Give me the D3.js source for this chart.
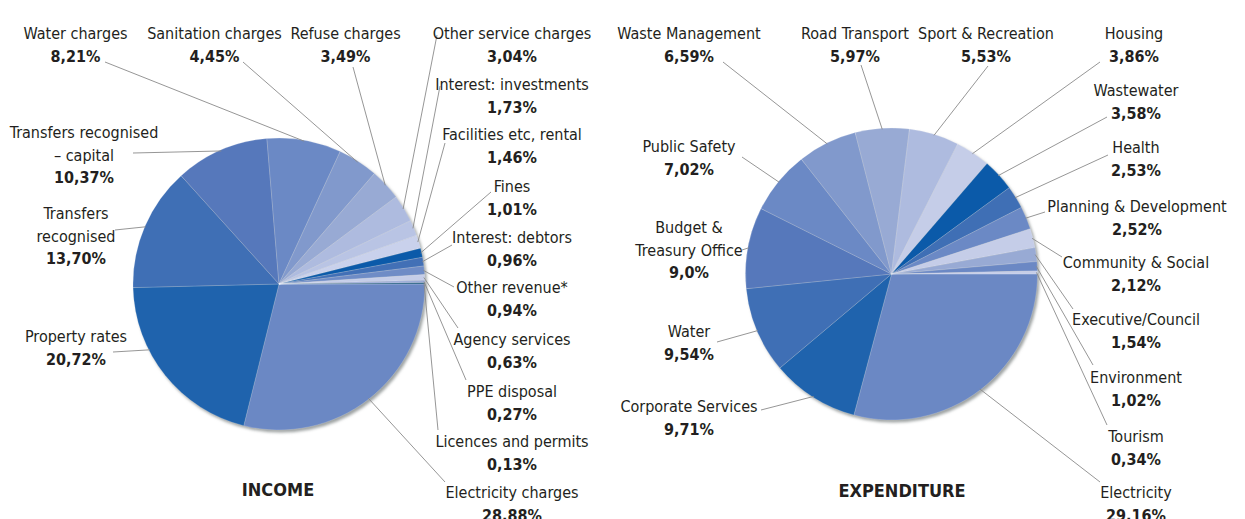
<!DOCTYPE html>
<html>
<head>
<meta charset="utf-8">
<script src="https://cdn.jsdelivr.net/npm/d3@7"></script>
<style>
  body { margin: 0; background: #fff; }
  svg text { font-family: "DejaVu Sans Condensed", "Liberation Sans Narrow", sans-serif; fill: #231f20; }
</style>
</head>
<body>
<svg id="chart" width="1245" height="519"></svg>
<script>
// values as printed (comma decimals), in clockwise order from 3 o'clock
const incomeCategories = ['Electricity charges', 'Property rates', 'Transfers\nrecognised',
  'Transfers recognised\n– capital', 'Water charges', 'Sanitation charges', 'Refuse charges',
  'Other service charges', 'Interest: investments', 'Facilities etc, rental', 'Fines',
  'Interest: debtors', 'Other revenue*', 'Agency services', 'PPE disposal', 'Licences and permits']
const incomeValues = ['28,88', '20,72', '13,70', '10,37', '8,21', '4,45', '3,49', '3,04',
  '1,73', '1,46', '1,01', '0,96', '0,94', '0,63', '0,27', '0,13']

const expCategories = ['Electricity', 'Corporate Services', 'Water', 'Budget &\nTreasury Office',
  'Public Safety', 'Waste Management', 'Road Transport', 'Sport & Recreation', 'Housing',
  'Wastewater', 'Health', 'Planning & Development', 'Community & Social', 'Executive/Council',
  'Environment', 'Tourism']
const expValues = ['29,16', '9,71', '9,54', '9,0', '7,02', '6,59', '5,97', '5,53', '3,86',
  '3,58', '2,53', '2,52', '2,12', '1,54', '1,02', '0,34']

// styling / layout (kept apart from the data)
const incomeColors = ['#6b88c4', '#1f63ad', '#3f6fb5', '#5678bb', '#6b89c5', '#8199cc', '#98aad4',
  '#aebbdf', '#b9c4e4', '#c9d1ec', '#0b5aa9', '#4270b6', '#6f8cc6', '#c5cde8', '#9aaad6', '#1d5a7e']
const expColors = ['#6b88c4', '#1f63ad', '#3f6fb5', '#5678bb', '#6b89c5', '#8199cc', '#98aad4',
  '#aebbdf', '#c5cde8', '#0b5aa9', '#3f6fb5', '#6b89c5', '#c5cde8', '#98aad4', '#6b88c4', '#c5cde8']

const incomeLabelAt = [[512, 498], [76, 342], [76, 219], [84, 138], [75.5, 39], [214.5, 39],
  [345.5, 39], [512, 39], [512, 90], [512, 140], [512, 192], [512, 243], [512, 293],
  [512, 345], [512, 397], [512, 447]]
const incomeLeadFrom = [[445, 482], [113, 352], [115, 230], [133, 153], [105, 62], [243, 62],
  [353, 67], [437, 35], [440, 86], [445, 143], [491, 192], [452, 245], [454, 287],
  [458, 328], [466, 380], [438, 430]]

const expLabelAt = [[1136, 498], [689, 412], [689, 337], [689, 233], [689, 152], [689, 39],
  [855, 39], [986, 39], [1134, 39], [1136, 96], [1136, 153], [1137, 212], [1136, 268],
  [1136, 325], [1136, 383], [1136, 442]]
const expLeadFrom = [[1100, 482], [761, 410], [717, 342], [742, 250], [742, 157], [723, 62],
  [861, 65], [988, 66], [1100, 62], [1107, 117], [1108, 155], [1045, 212], [1062, 257],
  [1073, 309], [1093, 365], [1107, 425]]

const radius = 146
const lineGap = 22.5

const svg = d3.select('#chart')

const defs = svg.append('defs')
defs.append('filter')
  .attr('id', 'shade')
  .attr('x', '-10%').attr('y', '-10%').attr('width', '120%').attr('height', '120%')
  .append('feGaussianBlur')
  .attr('stdDeviation', 1.6)

function drawPie (opts) {
  const data = opts.categories.map((c, i) => ({
    name: c,
    text: opts.values[i],
    value: +opts.values[i].replace(',', '.')
  }))

  const pie = d3.pie()
    .sort(null)
    .value(d => d.value)
    .startAngle(Math.PI / 2)
    .endAngle(Math.PI / 2 + 2 * Math.PI)

  const arcs = pie(data)

  const arc = d3.arc().innerRadius(0).outerRadius(radius)
  const rim = d3.arc().innerRadius(radius - 1).outerRadius(radius - 1)

  const g = svg.append('g')
    .attr('transform', `translate(${opts.cx}, ${opts.cy})`)

  // soft shadow on the lower right edge
  g.append('circle')
    .attr('cx', 2)
    .attr('cy', 2.5)
    .attr('r', radius)
    .style('fill', '#9ea3a3')
    .attr('filter', 'url(#shade)')

  g.selectAll('.slice')
    .data(arcs)
    .enter()
    .append('path')
    .attr('class', 'slice')
    .attr('d', arc)
    .style('fill', (d, i) => opts.colors[i])
    .style('stroke', 'rgba(255,255,255,0.35)')
    .style('stroke-width', 0.5)

  // leader lines
  svg.append('g')
    .selectAll('line')
    .data(arcs)
    .enter()
    .append('line')
    .attr('x1', (d, i) => opts.leadFrom[i][0])
    .attr('y1', (d, i) => opts.leadFrom[i][1])
    .attr('x2', (d, i) => {
      const a = opts.angles && opts.angles[i] != null ? opts.angles[i] : null
      const p = a == null ? rim.centroid(d) : rim.centroid({ startAngle: a, endAngle: a })
      return opts.cx + p[0]
    })
    .attr('y2', (d, i) => {
      const a = opts.angles && opts.angles[i] != null ? opts.angles[i] : null
      const p = a == null ? rim.centroid(d) : rim.centroid({ startAngle: a, endAngle: a })
      return opts.cy + p[1]
    })
    .style('stroke', '#8a8a8a')
    .style('stroke-width', 0.9)

  // labels
  const label = svg.append('g')
    .selectAll('text')
    .data(arcs)
    .enter()
    .append('text')
    .attr('text-anchor', 'middle')
    .style('font-size', '16px')

  label.selectAll('tspan')
    .data((d, i) => d.data.name.split('\n').map(t => ({ t, bold: false, at: opts.labelAt[i] }))
      .concat([{ t: d.data.text + '%', bold: true, at: opts.labelAt[i] }]))
    .enter()
    .append('tspan')
    .attr('x', d => d.at[0])
    .attr('y', (d, j) => d.at[1] + j * lineGap)
    .style('font-weight', d => d.bold ? 'bold' : 'normal')
    .text(d => d.t)

  svg.append('text')
    .attr('x', opts.titleAt[0])
    .attr('y', opts.titleAt[1])
    .attr('text-anchor', 'middle')
    .style('font-size', '18px')
    .style('font-weight', 'bold')
    .text(opts.title)
}

const deg = Math.PI / 180

drawPie({
  categories: incomeCategories,
  values: incomeValues,
  colors: incomeColors,
  labelAt: incomeLabelAt,
  leadFrom: incomeLeadFrom,
  angles: [null, 243 * deg],
  cx: 279,
  cy: 284,
  title: 'INCOME',
  titleAt: [278, 496]
})

drawPie({
  categories: expCategories,
  values: expValues,
  colors: expColors,
  labelAt: expLabelAt,
  leadFrom: expLeadFrom,
  cx: 891.5,
  cy: 274,
  title: 'EXPENDITURE',
  titleAt: [902, 497]
})
</script>
</body>
</html>
